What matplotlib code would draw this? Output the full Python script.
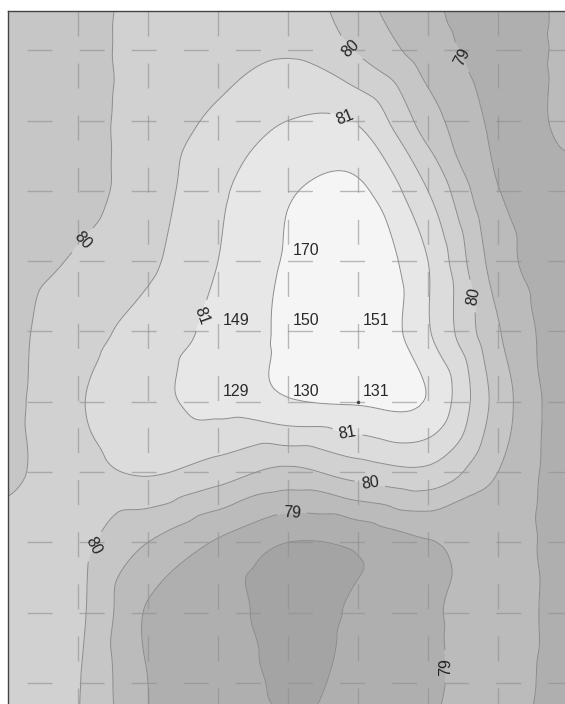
import numpy as np
import matplotlib
matplotlib.use("Agg")
import matplotlib.pyplot as plt
import matplotlib.tri as mtri

# measured values at the grid nodes (rows top -> bottom, columns left -> right)
col_pos = [0, 1, 2, 3, 4, 5, 6, 7, 8]
row_pos = [0, 1, 2, 3, 4, 5, 6, 7, 8, 9, 10, 11]
z_rows = [
    [79.70, 79.85, 80.15, 80.20, 80.25, 79.55, 79.03, 78.80, 79.10],
    [79.70, 79.85, 80.15, 80.30, 80.45, 79.95, 79.25, 78.80, 79.10],
    [79.70, 79.85, 80.20, 80.60, 81.00, 80.95, 79.75, 78.90, 79.08],
    [79.70, 79.85, 80.25, 80.90, 81.45, 81.60, 80.50, 79.02, 78.90],
    [79.80, 80.05, 80.40, 81.00, 81.55, 81.90, 81.00, 79.25, 78.60],
    [79.85, 80.30, 80.70, 81.15, 81.60, 82.00, 81.05, 79.55, 78.60],
    [79.85, 80.45, 80.85, 81.15, 81.45, 81.55, 81.45, 79.80, 78.60],
    [79.85, 80.35, 80.55, 80.25, 79.88, 80.22, 80.38, 79.50, 78.65],
    [80.30, 80.15, 79.50, 78.95, 78.50, 78.60, 78.97, 79.25, 78.70],
    [80.35, 80.10, 78.95, 78.80, 78.20, 78.60, 78.90, 79.30, 78.70],
    [80.40, 80.03, 79.00, 78.85, 78.40, 78.65, 78.90, 79.25, 78.70],
    [80.40, 80.00, 79.00, 78.90, 78.60, 78.80, 79.00, 79.20, 78.70],
]

fill_levels = [77.0, 78.5, 79.0, 79.5, 80.0, 80.5, 81.0, 81.5, 83.0]
fill_grays = ["#a4a4a4", "#afafaf", "#bbbbbb", "#c6c6c6", "#d1d1d1",
              "#dcdcdc", "#e7e7e7", "#f5f5f5"]
plain_levels = [78.5, 79.5, 80.5, 81.5]
label_levels = [79.0, 80.0, 81.0]

# where the contour labels sit (pixel position in the original picture)
label_px = [(345, 55), (457, 60), (345, 118), (82, 240), (200, 315),
            (478, 295), (347, 435), (370, 483), (292, 513), (108, 554),
            (443, 667)]

well_names = ["170", "149", "150", "151", "129", "130", "131"]
well_cols = [4, 3, 4, 5, 3, 4, 5]
well_rows = [4, 5, 5, 5, 6, 6, 6]


def main():
    fig = plt.figure(figsize=(5.65, 7.04), dpi=100)
    ax = fig.add_axes([8 / 565, -14 / 704, 560 / 565, 707 / 704])

    X, Y = np.meshgrid(col_pos, row_pos)
    z = np.array(z_rows)
    tri = mtri.Triangulation(X.ravel().astype(float), Y.ravel().astype(float))
    interp = mtri.CubicTriInterpolator(tri, z.ravel(), kind="geom")
    refiner = mtri.UniformTriRefiner(tri)
    tri_f, z_f = refiner.refine_field(z.ravel(), triinterpolator=interp, subdiv=4)

    ax.tricontourf(tri_f, z_f, levels=fill_levels, colors=fill_grays)
    ax.tricontour(tri_f, z_f, levels=plain_levels, colors="#8c8c8c",
                  linewidths=0.7)
    cs = ax.tricontour(tri_f, z_f, levels=label_levels, colors="#8c8c8c",
                       linewidths=0.7)

    manual = [((px - 8) / 70, (py + 20) / 70.3) for px, py in label_px]
    lbls = ax.clabel(cs, manual=manual, inline=True, fmt="%d", fontsize=11.5,
                     colors="#222222")
    for t in lbls:
        t.set_family("Liberation Sans")

    # dashed grid, dash ~25px / gap ~27px
    for gx in range(1, 8):
        ax.axvline(gx, color="#8f8f8f", lw=1.0, alpha=0.6,
                   linestyle=(5.8, (18, 19.5)))
    for gy in range(1, 11):
        ax.axhline(gy, color="#8f8f8f", lw=1.0, alpha=0.6,
                   linestyle=(23.8, (18, 19.5)))

    for name, c, r in zip(well_names, well_cols, well_rows):
        ax.annotate(name, (c, r), xytext=(3.6, 4.3), textcoords="offset points",
                    fontsize=11.5, family="Liberation Sans", color="#2a2a2a")
    ax.plot([5], [6.0], marker="o", markersize=1.5, color="#444444")

    ax.set_xlim(0, 8)
    ax.set_ylim(10.5, 0.441)
    ax.set_xticks([])
    ax.set_yticks([])
    for s in ax.spines.values():
        s.set_color("#444444")
        s.set_linewidth(1.0)

    fig.savefig("out.png", dpi=100)


if __name__ == "__main__":
    main()
